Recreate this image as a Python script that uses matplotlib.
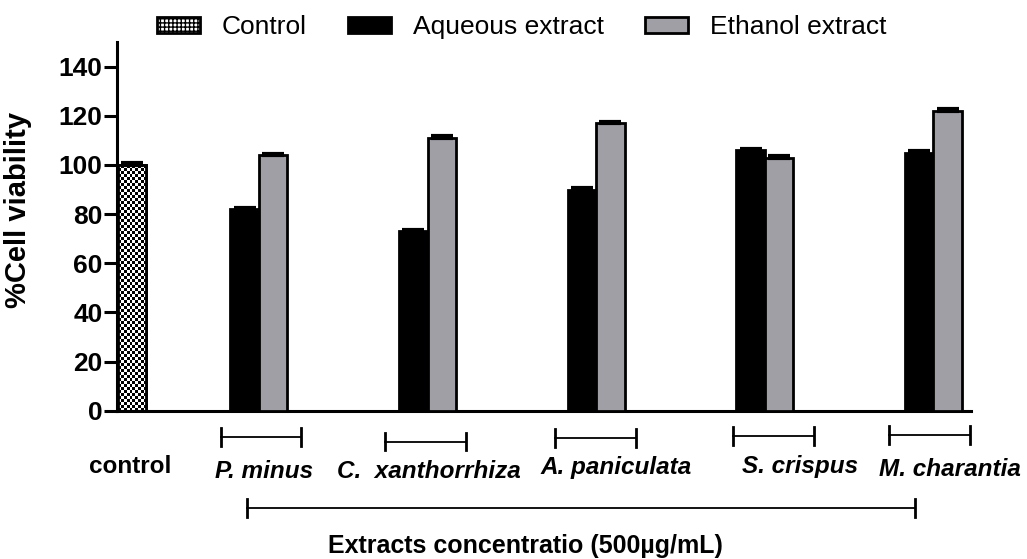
import numpy as np
import matplotlib
matplotlib.use("Agg")
import matplotlib.pyplot as plt
from matplotlib.patches import Patch

plt.rcParams["font.family"] = ["Liberation Sans", "DejaVu Sans"]

# data
control_value = 100
control_err = 0.6
extracts = ["P. minus", "C.  xanthorrhiza", "A. paniculata", "S. crispus", "M. charantia"]
aqueous = [82, 73, 90, 106, 105]
aqueous_err = [0.6, 0.6, 0.6, 0.6, 0.6]
ethanol = [104, 111, 117, 103, 122]
ethanol_err = [0.6, 0.6, 0.6, 0.6, 0.6]
yticks = [0, 20, 40, 60, 80, 100, 120, 140]

GRAY = "#a09fa5"

fig = plt.figure(figsize=(10.27, 5.59), dpi=100)
ax = fig.add_axes([0.114, 0.265, 0.831, 0.66])

bw = 0.97
centers = 4.82 + 5.73 * np.arange(len(extracts))

# control bar with checkerboard fill
cbar = ax.bar([0.5], [control_value], width=bw, color="white", edgecolor="black",
              linewidth=2, zorder=2)
checker = np.indices((82, 10)).sum(axis=0) % 2
im = ax.imshow(checker, cmap="gray_r", extent=(0.5 - bw / 2, 0.5 + bw / 2, 0, control_value),
               aspect="auto", interpolation="nearest", zorder=2.5)
im.set_clip_path(cbar.patches[0])
ax.bar([0.5], [control_value], width=bw, color="none", edgecolor="black", linewidth=2, zorder=3)
ax.errorbar([0.5], [control_value], yerr=[[0], [control_err]], fmt="none", ecolor="black",
            elinewidth=2, capsize=8, capthick=3, zorder=4)

ax.bar(centers - bw / 2, aqueous, width=bw, color="black", edgecolor="black", linewidth=2, zorder=3)
ax.bar(centers + bw / 2, ethanol, width=bw, color=GRAY, edgecolor="black", linewidth=2, zorder=3)
ax.errorbar(centers - bw / 2, aqueous, yerr=[np.zeros(5), aqueous_err], fmt="none",
            ecolor="black", elinewidth=2, capsize=8, capthick=3, zorder=4)
ax.errorbar(centers + bw / 2, ethanol, yerr=[np.zeros(5), ethanol_err], fmt="none",
            ecolor="black", elinewidth=2, capsize=8, capthick=3, zorder=4)

ax.set_xlim(0, 29)
ax.set_ylim(0, 150)
ax.set_yticks(yticks)
ax.set_yticklabels([str(v) for v in yticks], fontsize=19, fontweight="bold")
ax.set_xticks([])
ax.spines[["top", "right"]].set_visible(False)
ax.spines["left"].set_linewidth(2.2)
ax.spines["bottom"].set_linewidth(2.2)
ax.tick_params(axis="y", direction="out", length=9.5, width=2.2, pad=1)
ax.set_ylabel("%Cell viability", fontsize=21, fontweight="bold")
ax.yaxis.set_label_coords(-0.0995, 0.545)

# brackets under each extract group
br_y = [-10.6, -12.6, -11.0, -10.2, -9.8]
br_c = [4.89, 10.48, 16.26, 22.3, 27.6]
for c, y in zip(br_c, br_y):
    ax.plot([c - 1.37, c + 1.37], [y, y], color="black", lw=1.3, clip_on=False)
    for xx in (c - 1.37, c + 1.37):
        ax.plot([xx, xx], [y - 3.5, y + 3.5], color="black", lw=2, clip_on=False)

lab_x = [5.0, 10.6, 16.95, 23.2, 28.3]
lab_y = [-24.5, -24.5, -23.0, -22.5, -24.0]
for name, x, y in zip(extracts, lab_x, lab_y):
    ax.text(x, y, name, fontsize=17.5, fontweight="bold", style="italic",
            ha="center", va="center", clip_on=False)
ax.text(0.45, -22.5, "control", fontsize=17.5, fontweight="bold", ha="center", va="center")

# big bracket
ax.plot([4.41, 27.1], [-39.4, -39.4], color="black", lw=1.3, clip_on=False)
for xx in (4.41, 27.1):
    ax.plot([xx, xx], [-43, -35.8], color="black", lw=2, clip_on=False)
ax.text(13.89, -54.8, "Extracts concentratio (500\u00b5g/mL)", fontsize=18,
        fontweight="bold", ha="center", va="center")

handles = [Patch(facecolor="white", edgecolor="black", hatch="++++", linewidth=2, label="Control"),
           Patch(facecolor="black", edgecolor="black", linewidth=2, label="Aqueous extract"),
           Patch(facecolor=GRAY, edgecolor="black", linewidth=2, label="Ethanol extract")]
fig.legend(handles=handles, loc="center left", bbox_to_anchor=(157 / 1027, 1 - 27 / 559), ncol=3,
           frameon=False, fontsize=19, handlelength=1.63, handleheight=0.57,
           columnspacing=1.55, handletextpad=0.83, borderpad=0, borderaxespad=0)

fig.savefig("out.png", dpi=100)
